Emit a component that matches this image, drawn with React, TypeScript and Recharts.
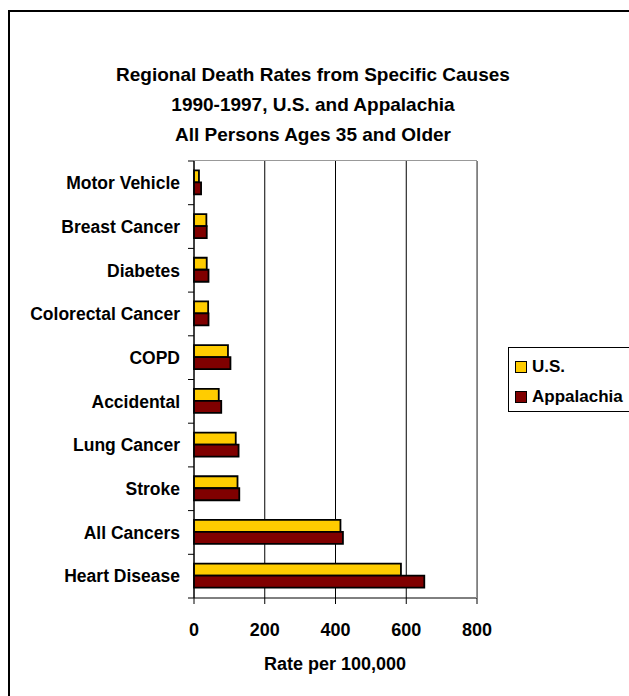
import { BarChart, Bar, XAxis, YAxis, CartesianGrid } from "recharts";

const causes = [
  "Motor Vehicle",
  "Breast Cancer",
  "Diabetes",
  "Colorectal Cancer",
  "COPD",
  "Accidental",
  "Lung Cancer",
  "Stroke",
  "All Cancers",
  "Heart Disease",
];
const usRates = [14, 35, 36, 40, 96, 70, 118, 123, 414, 585];
const appalachiaRates = [20, 36, 41, 41, 103, 77, 126, 128, 421, 651];
const rateTicks = [0, 200, 400, 600, 800];

const series = [
  { key: "us", name: "U.S.", color: "#FFCC00" },
  { key: "app", name: "Appalachia", color: "#800000" },
];

const data = causes.map((cause, i) => ({
  cause,
  us: usRates[i],
  app: appalachiaRates[i],
}));

const font = "'Liberation Sans', Arial, sans-serif";

// category labels, with the tick marks between categories (Excel style)
const CauseTick = (props: any) => {
  const { x, y, payload, index } = props;
  const half = payload.offset || 21.85;
  const ax = x + 8;
  return (
    <g>
      <text x={x} y={y} dy="0.36em" textAnchor="end" fontSize={17.5} fontWeight="bold" fontFamily={font} fill="#000">
        {payload.value}
      </text>
      <line x1={ax} x2={ax + 6} y1={y + half} y2={y + half} stroke="#000" />
      {index === 0 && <line x1={ax} x2={ax + 6} y1={y - half} y2={y - half} stroke="#000" />}
    </g>
  );
};

export default function App() {
  return (
    <div style={{ position: "absolute", left: 0, top: 0, width: 629, height: 696, overflow: "hidden", background: "#fff", fontFamily: font }}>
      {/* chart area frame */}
      <div style={{ position: "absolute", left: 8, top: 10, width: 700, height: 800, borderLeft: "2px solid #000", borderTop: "2px solid #000" }} />

      <div style={{ position: "absolute", left: 0, top: 60, width: 626, textAlign: "center", fontSize: 19, fontWeight: "bold", lineHeight: "30px" }}>
        <div>Regional Death Rates from Specific Causes</div>
        <div>1990-1997, U.S. and Appalachia</div>
        <div>All Persons Ages 35 and Older</div>
      </div>

      <div style={{ position: "absolute", left: 0, top: 0 }}>
        <BarChart
          width={629}
          height={696}
          data={data}
          layout="vertical"
          margin={{ top: 161, right: 152, bottom: 58, left: 0 }}
          barCategoryGap="21.4%"
          barGap={0}
        >
          <CartesianGrid horizontal={false} stroke="#000" />
          <XAxis
            type="number"
            domain={[0, 800]}
            ticks={rateTicks}
            height={40}
            tickSize={6}
            tickMargin={19}
            stroke="#000"
            tick={{ fontSize: 18, fontWeight: "bold", fill: "#000", fontFamily: font }}
          />
          <YAxis
            type="category"
            dataKey="cause"
            width={194}
            tickSize={6}
            tickMargin={8}
            tickLine={false}
            stroke="#000"
            interval={0}
            tick={<CauseTick />}
          />
          {series.map((s) => (
            <Bar key={s.key} dataKey={s.key} name={s.name} fill={s.color} stroke="#000" strokeWidth={1.8} isAnimationActive={false} />
          ))}
        </BarChart>
      </div>

      {/* plot area border (top / right) */}
      <div style={{ position: "absolute", left: 194, top: 160, width: 283, height: 438, boxSizing: "border-box", borderTop: "1.5px solid #999", borderRight: "1.5px solid #999", pointerEvents: "none" }} />

      <div style={{ position: "absolute", left: 235, top: 654, width: 200, textAlign: "center", fontSize: 18, fontWeight: "bold", lineHeight: "20px" }}>
        Rate per 100,000
      </div>

      {/* legend */}
      <div style={{ position: "absolute", left: 508, top: 347, width: 130, height: 65, boxSizing: "border-box", border: "1px solid #000", paddingTop: 4 }}>
        {series.map((s) => (
          <div key={s.key} style={{ height: 30, display: "flex", alignItems: "center" }}>
            <span style={{ display: "inline-block", width: 10, height: 10, marginLeft: 6, marginRight: 5, background: s.color, border: "1px solid #000" }} />
            <span style={{ fontSize: 17, fontWeight: "bold" }}>{s.name}</span>
          </div>
        ))}
      </div>
    </div>
  );
}
